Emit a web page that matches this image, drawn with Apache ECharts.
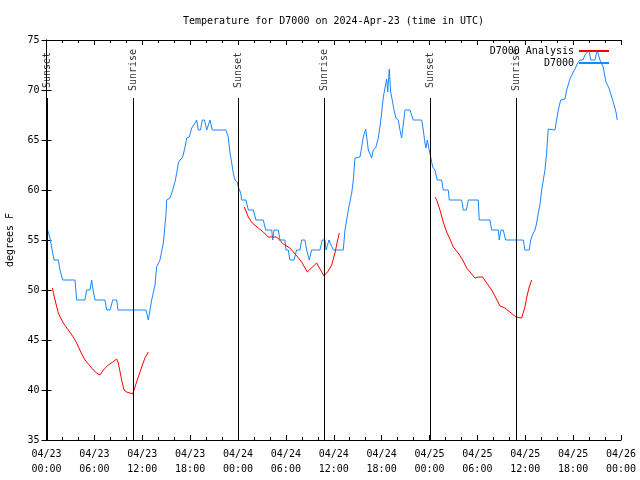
<!DOCTYPE html>
<html>
<head>
<meta charset="utf-8">
<script src="https://cdn.jsdelivr.net/npm/echarts@6/dist/echarts.min.js"></script>
<style>html,body{margin:0;padding:0;background:#fff}#c{width:640px;height:480px}</style>
</head>
<body>
<div id="c"></div>
<script>
// hours since 04/23 00:00 UTC
var titleText = 'Temperature for D7000 on 2024-Apr-23 (time in UTC)';
var yAxisName = 'degrees F';
var xTickLabels = ['04/23\n00:00','04/23\n06:00','04/23\n12:00','04/23\n18:00','04/24\n00:00','04/24\n06:00','04/24\n12:00','04/24\n18:00','04/25\n00:00','04/25\n06:00','04/25\n12:00','04/25\n18:00','04/26\n00:00'];
var sunNames = ['Sunset','Sunrise','Sunset','Sunrise','Sunset','Sunrise'];
var sunTimes = [0.1, 10.87, 24.03, 34.8, 48.08, 58.86];

var d7000 = [
[0.1,56.1],[0.44,55.2],[0.94,53],[1.48,53],[1.69,52],[2.03,51],[3.57,51],[3.78,49],[4.82,49],[5.03,50],[5.45,50],[5.66,51],[5.83,50],[6.08,49],[7.33,49],[7.54,48],[7.96,48],[8.3,49],[8.8,49],[8.96,48],[12.47,48],[12.76,47],[13.18,49],[13.6,50.5],[13.8,52.3],[14.22,53],[14.64,54.7],[14.97,57.5],[15.06,59],[15.48,59.2],[15.81,60],[16.1,60.8],[16.32,61.7],[16.52,62.7],[16.73,63],[17.07,63.3],[17.36,64.3],[17.57,65.2],[17.89,65.3],[18.2,66.2],[18.61,66.7],[18.82,67],[19.02,66],[19.3,66],[19.52,67],[19.8,67],[20.08,66],[20.3,66],[20.49,67],[20.78,66],[22.49,66],[22.78,65.3],[23.0,63.7],[23.21,62.7],[23.41,61.7],[23.62,61],[23.91,60.8],[24.04,60.3],[24.34,59.7],[24.46,59],[25.0,59],[25.29,58],[25.92,58],[26.25,57],[27.17,57],[27.47,56],[28.22,56],[28.35,55],[28.51,56],[29.05,56],[29.26,55],[29.89,55],[30.01,54],[30.3,54],[30.51,53],[31.02,53],[31.35,54],[31.77,54],[31.98,55],[32.39,55],[32.61,54],[32.93,53],[33.23,54],[34.27,54],[34.56,55],[34.9,55],[35.03,54],[35.28,54],[35.4,55],[35.94,54],[37.19,54],[37.41,56],[37.82,58],[38.25,59.7],[38.45,61],[38.66,63.2],[39.29,63.3],[39.5,64.3],[39.7,65.3],[40.0,66.1],[40.13,65.3],[40.33,64],[40.75,63.2],[40.95,64],[41.25,64.2],[41.58,65.2],[41.79,66.3],[42.0,67.7],[42.21,69.3],[42.42,70.2],[42.63,71.1],[42.76,69.8],[42.96,72.1],[43.13,69.8],[43.38,68.8],[43.55,68],[43.8,67.2],[44.09,67],[44.3,66],[44.51,65.2],[44.71,65.2],[44.93,68],[45.55,68],[45.96,67],[47.02,67],[47.22,66],[47.43,64.7],[47.56,64.2],[47.72,65],[47.97,64],[48.15,63.3],[48.4,62.3],[48.68,62],[48.97,61],[49.52,61],[49.72,60],[50.35,60],[50.48,59],[52.03,59],[52.23,58],[52.63,58],[52.86,59],[54.11,59],[54.23,57],[55.58,57],[55.79,56],[56.62,56],[56.74,55],[56.96,56],[57.24,56],[57.54,55],[59.75,55],[59.96,54],[60.5,54],[60.68,55],[61.0,55.7],[61.22,56],[61.43,56.7],[61.63,57.7],[61.84,58.5],[62.06,60],[62.47,62],[62.68,63.7],[62.88,66.1],[63.72,66],[63.93,67],[64.14,68],[64.44,69],[64.98,69.1],[65.19,70],[65.6,71.1],[66.02,71.8],[66.23,72.1],[66.44,72.1],[66.57,72.7],[66.86,73],[67.23,73],[67.48,73.5],[67.98,74],[68.2,73],[68.73,73],[69.02,74],[69.36,73],[69.77,72.3],[70.11,70.8],[70.49,70.2],[70.74,70],[71.03,68.8],[71.37,67.8],[71.53,67]
];

var analysisDay1 = [[0.73,50.2],[1.07,49],[1.48,47.7],[1.78,47.2],[2.19,46.6],[2.73,46],[3.36,45.3],[3.78,44.7],[4.29,43.8],[4.82,43],[5.36,42.5],[5.86,42],[6.29,41.7],[6.7,41.5],[7.12,42],[7.74,42.5],[8.3,42.8],[8.8,43.1],[9.0,42.7],[9.42,41],[9.71,40],[10.05,39.8],[10.46,39.7],[10.8,39.6],[11.09,40.3],[11.5,41.3],[11.93,42.3],[12.34,43.2],[12.76,43.8]];
var analysisDay2 = [[24.79,58.3],[25.29,57.3],[25.79,56.7],[26.54,56.2],[27.17,55.8],[27.79,55.3],[28.85,55.3],[29.67,54.6],[30.51,54.2],[31.27,53.5],[31.98,52.8],[32.68,51.8],[33.86,52.7],[34.77,51.4],[35.31,51.9],[35.74,52.5],[36.15,53.7],[36.44,54.8],[36.69,55.7]];
var analysisDay3 = [[48.68,59.3],[48.9,59],[49.31,58],[49.72,56.8],[50.15,55.8],[50.56,55.1],[50.98,54.3],[51.6,53.7],[52.16,53],[52.66,52.2],[53.07,51.8],[53.7,51.2],[54.11,51.3],[54.66,51.3],[55.16,50.7],[55.79,50],[56.33,49.2],[56.83,48.4],[57.46,48.2],[58.08,47.8],[58.83,47.3],[59.55,47.2],[59.96,48.3],[60.25,49.5],[60.5,50.3],[60.8,51]];

var FONT = 'DejaVu Sans Mono';
var RED = '#ff0000', BLUE = '#1a86ff';
var SUN_TOP = 69.2, SUN_LABEL_Y = 71.9;

var chart = echarts.init(document.getElementById('c'), null, {renderer:'canvas'});

function xAxisCfg(pos, labels) {
  return {
    type:'value', min:0, max:72, interval:6, position:pos,
    axisLine:{show:true, onZero:false, lineStyle:{color:'#000', width:1}},
    axisTick:{show:true, inside:true, length:5, lineStyle:{color:'#000'}},
    minorTick:{show:true, splitNumber:3, length:3, lineStyle:{color:'#000'}},
    splitLine:{show:false},
    axisLabel:{show:labels, color:'#000', fontFamily:FONT, fontSize:10, lineHeight:15, margin:7,
      formatter:function(v){ return xTickLabels[Math.round(v/6)] || ''; }}
  };
}
function yAxisCfg(pos, labels) {
  return {
    type:'value', min:35, max:75, interval:5, position:pos,
    name: labels ? yAxisName : '', nameLocation:'middle', nameGap:31, nameRotate:90,
    nameTextStyle:{color:'#000', fontFamily:FONT, fontSize:10},
    axisLine:{show:true, lineStyle:{color:'#000', width:1}},
    axisTick:{show:true, inside:true, length:5, lineStyle:{color:'#000'}},
    splitLine:{show:false},
    axisLabel:{show:labels, color:'#000', fontFamily:FONT, fontSize:10, margin:7}
  };
}

var sunLines = sunTimes.map(function(t){ return [{coord:[t,35]},{coord:[t,SUN_TOP]}]; });
var sunLabels = sunTimes.map(function(t,i){ return {value:[t,SUN_LABEL_Y], name:sunNames[i]}; });

function analysisSeries(d) {
  return {name:'D7000 Analysis', type:'line', data:d, symbol:'none', showSymbol:false,
    lineStyle:{color:RED, width:1}, itemStyle:{color:RED}, z:3};
}
function legendCfg(name, top) {
  return {data:[name], right:30, top:top, orient:'vertical', align:'right', itemWidth:30, itemHeight:10, padding:0,
    itemStyle:{opacity:0}, textStyle:{fontFamily:FONT, fontSize:10, color:'#000'}};
}

chart.setOption({
  animation:false,
  backgroundColor:'#fff',
  title:{text:titleText, left:183, top:16, padding:0,
    textStyle:{fontFamily:FONT, fontSize:10, fontWeight:'normal', color:'#000'}},
  legend:[legendCfg('D7000 Analysis', 46), legendCfg('D7000', 58)],
  grid:{left:46.5, right:19, top:40, bottom:40, containLabel:false, outerBoundsMode:'none'},
  xAxis:[xAxisCfg('bottom', true), xAxisCfg('top', false)],
  yAxis:[yAxisCfg('left', true), yAxisCfg('right', false)],
  series:[
    analysisSeries(analysisDay1),
    analysisSeries(analysisDay2),
    analysisSeries(analysisDay3),
    {name:'D7000', type:'line', data:d7000, symbol:'none', showSymbol:false,
      lineStyle:{color:BLUE, width:1}, itemStyle:{color:BLUE}, z:2},
    {name:'sun', type:'line', data:[], silent:true,
      markLine:{silent:true, symbol:['none','none'], label:{show:false},
        lineStyle:{color:'#000', width:1, type:'solid'}, data:sunLines, animation:false}},
    {name:'sunLabel', type:'scatter', data:sunLabels, symbolSize:0, silent:true,
      label:{show:true, position:'inside', rotate:90, offset:[1,0], formatter:function(p){return p.name;},
        color:'#000', fontFamily:FONT, fontSize:10}}
  ]
});
</script>
</body>
</html>
